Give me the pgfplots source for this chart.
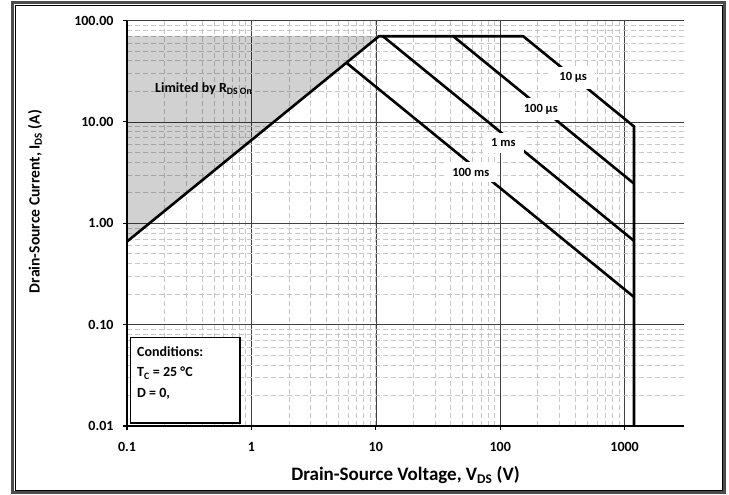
\documentclass[border=0pt]{standalone}
\usepackage{pgfplots}
\pgfplotsset{compat=1.18}
\usepackage{fontspec}
\setmainfont{Carlito}
\begin{document}
\begin{tikzpicture}
\useasboundingbox (-127bp,-69bp) rectangle (602bp,426bp);
\begin{axis}[
  scale only axis, width=557bp, height=405.5bp,
  xmode=log, ymode=log,
  xmin=0.1, xmax=3000, ymin=0.01, ymax=100,
  axis x line*=bottom, axis y line*=left,
  axis line style={line width=2.5bp, black},
  xtick={0.1,1,10,100,1000}, xticklabels={0.1,1,10,100,1000},
  ytick={0.01,0.1,1,10,100}, yticklabels={0.01,0.10,1.00,10.00,100.00},
  tick align=outside, major tick length=4bp, minor tick length=0pt,
  tick style={black, line width=1.2bp},
  ticklabel style={font=\fontsize{14bp}{16bp}\selectfont\bfseries},
  xticklabel style={yshift=-9bp},
  yticklabel style={xshift=-6bp},
  grid=both,
  major grid style={black!75, line width=0.6bp, solid},
  minor grid style={gray!45, line width=0.7bp, dash pattern=on 5bp off 3bp},
  clip=true,
]
% shaded R_DS(on) region
\addplot[draw=none, fill=black, fill opacity=0.18] coordinates {(0.1,0.66) (10.6,70) (0.1,70)} -- cycle;
% R_DS on limit and 10 us envelope
\addplot[black, line width=2.6bp, line join=round] coordinates {(0.1,0.66) (10.6,70) (153,70) (1190,9.0) (1190,0.01)};
% 100 us
\addplot[black, line width=2.6bp] coordinates {(41.9,70) (1190,2.46)};
% 1 ms
\addplot[black, line width=2.6bp] coordinates {(11.4,70) (1190,0.67)};
% 100 ms
\addplot[black, line width=2.6bp] coordinates {(5.8,38.3) (1190,0.187)};
\begin{scope}[every node/.style={fill=white, inner xsep=8bp, inner ysep=6bp, font=\fontsize{12.5bp}{14bp}\selectfont\bfseries}]
\node at (axis cs:386,27.2) {10 µs};
\node at (axis cs:212,13.4) {100 µs};
\node at (axis cs:106,6.2) {1 ms};
\node at (axis cs:58,3.2) {100 ms};
\end{scope}
\node[font=\fontsize{14bp}{16bp}\selectfont\bfseries] at (axis cs:0.414,21.2) {Limited by R\textsubscript{DS On}};
\end{axis}
% conditions box
\draw[line width=1.5bp, fill=white] (3.7bp,3bp) rectangle (113bp,88.3bp);
\begin{scope}[every node/.style={anchor=base west, inner sep=0pt, font=\fontsize{14bp}{16bp}\selectfont\bfseries}]
\node at (10bp,69bp) {Conditions:};
\node at (10bp,49bp) {T\textsubscript{C} = 25 °C};
\node at (10bp,29bp) {D = 0,};
\end{scope}
% axis labels
\node[anchor=base, inner sep=0pt, font=\fontsize{19bp}{22bp}\selectfont\bfseries] at (278.5bp,-54.7bp) {Drain-Source Voltage, V\textsubscript{DS} (V)};
\node[rotate=90, inner sep=0pt, font=\fontsize{15.6bp}{18bp}\selectfont\bfseries] at (-92bp,224.5bp) {Drain-Source Current, I\textsubscript{DS} (A)};
% outer frame
\draw[line width=3bp, black!70] (-114bp,-66bp) rectangle (597bp,423bp);
\draw[line width=0.8bp, black] (-112bp,-64bp) rectangle (595bp,421bp);
\end{tikzpicture}
\end{document}
